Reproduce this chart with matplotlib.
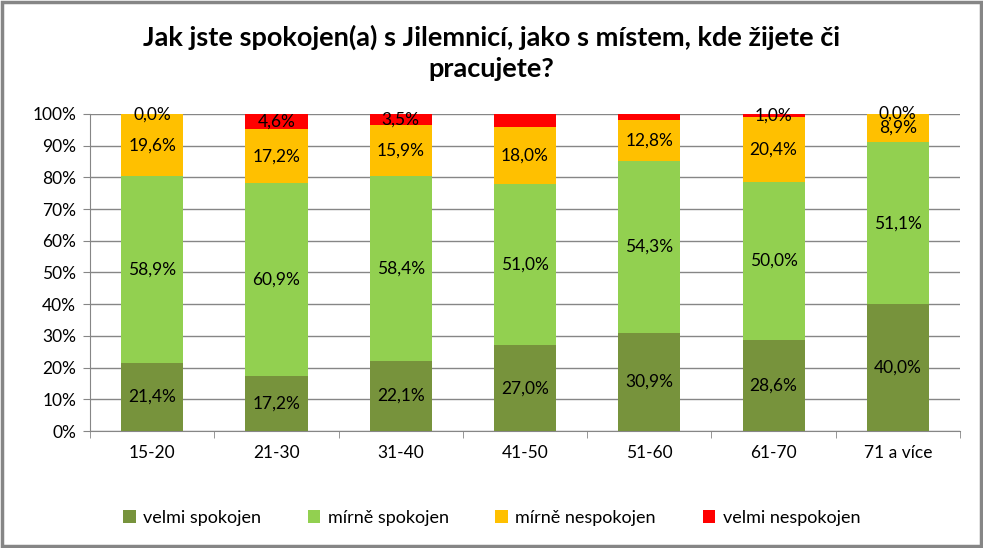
import matplotlib
matplotlib.use('Agg')
from matplotlib import pyplot as plt
from matplotlib.patches import Rectangle

plt.rcParams['font.family'] = ['Lato', 'DejaVu Sans']

# Data
categories = ['15-20', '21-30', '31-40', '41-50', '51-60', '61-70', '71 a více']
series_names = ['velmi spokojen', 'mírně spokojen', 'mírně nespokojen', 'velmi nespokojen']
velmi_spokojen = [21.4, 17.2, 22.1, 27.0, 30.9, 28.6, 40.0]
mirne_spokojen = [58.9, 60.9, 58.4, 51.0, 54.3, 50.0, 51.1]
mirne_nespokojen = [19.6, 17.2, 15.9, 18.0, 12.8, 20.4, 8.9]
velmi_nespokojen = [0.0, 4.6, 3.5, 4.0, 2.0, 1.0, 0.0]
# which values carry a label in the original (red ones for 41-50, 51-60 are not shown)
show_red_label = [True, True, True, False, False, True, True]
colors = ['#77933C', '#92D050', '#FFC000', '#FF0000']
title = 'Jak jste spokojen(a) s Jilemnicí, jako s místem, kde žijete či\npracujete?'

series = [velmi_spokojen, mirne_spokojen, mirne_nespokojen, velmi_nespokojen]

fig = plt.figure(figsize=(9.83, 5.48), dpi=100)
ax = fig.add_axes([0.0916, 0.2135, 0.885, 0.5785])

x = range(len(categories))
bottom = [0.0] * len(categories)
for i, (name, vals, col) in enumerate(zip(series_names, series, colors)):
    bars = ax.bar(x, vals, width=0.5, bottom=bottom, color=col, label=name, zorder=3)
    labels = []
    for j, v in enumerate(vals):
        if i == 3 and not show_red_label[j]:
            labels.append('')
        else:
            labels.append(f'{v:.1f}%'.replace('.', ','))
    ax.bar_label(bars, labels=labels, label_type='center', fontsize=12.5, color='black', zorder=4)
    bottom = [b + v for b, v in zip(bottom, vals)]

ax.set_xlim(-0.5, len(categories) - 0.5)
ax.set_ylim(0, 100)
ax.set_yticks(range(0, 101, 10))
ax.set_yticklabels([f'{t}%' for t in range(0, 101, 10)], fontsize=12.5)
ax.set_xticks(list(x))
ax.set_xticklabels(categories, fontsize=12.5)
ax.tick_params(axis='x', length=0, pad=10)
ax.set_xticks([k - 0.5 for k in range(len(categories) + 1)], minor=True)
ax.tick_params(axis='x', which='minor', length=5, color='#868686')
ax.tick_params(axis='y', length=5, color='#868686', pad=5)
ax.yaxis.grid(True, color='#868686', linewidth=1, zorder=0)
for s in ['top', 'right']:
    ax.spines[s].set_visible(False)
for s in ['left', 'bottom']:
    ax.spines[s].set_color('#868686')

fig.text(0.5, 0.903, title, ha='center', va='center', fontsize=19.5, fontweight='bold',
         linespacing=1.35)

fig.legend(loc='center', bbox_to_anchor=(0.5, 0.055), ncol=4, frameon=False, fontsize=13,
           handlelength=0.7, handleheight=0.7, columnspacing=2.6, handletextpad=0.4)

# outer chart border
fig.patches.append(Rectangle((0.002, 0.003), 0.996, 0.994, transform=fig.transFigure,
                             fill=False, edgecolor='#868686', linewidth=2.5))

fig.savefig('out.png', dpi=100)
